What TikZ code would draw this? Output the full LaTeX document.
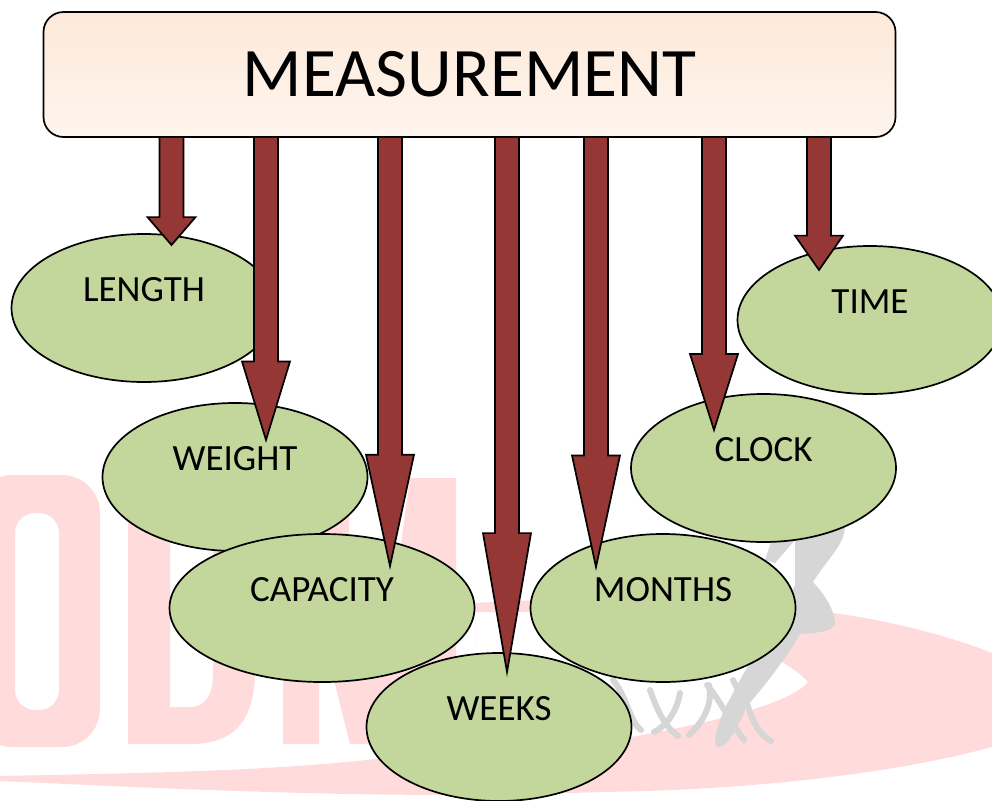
\documentclass[tikz,border=0pt]{standalone}
\usepackage{fontspec}
\setmainfont{Carlito}
\usetikzlibrary{shapes.geometric,calc}
\definecolor{boxtop}{HTML}{FDE9D9}
\definecolor{boxbottom}{HTML}{FEF5EE}
\definecolor{ovalgreen}{HTML}{C3D69B}
\definecolor{arrowred}{HTML}{953735}
\definecolor{markpink}{HTML}{FFDBDB}
\definecolor{markgrey}{HTML}{D6D6D6}

\begin{document}
\begin{tikzpicture} [x=1pt,y=-1pt,
		title box/.style={draw,line width=1.7pt,rounded corners=20pt,top color=boxtop,bottom color=boxbottom,
			minimum width=852pt,minimum height=125pt,inner sep=0pt,font=\fontsize{69.5}{69.5}\selectfont},
		topic/.style={draw,line width=1.7pt,ellipse,fill=ovalgreen,inner sep=0pt,minimum width=265pt,minimum height=148pt,
			text height=12pt,text depth=25pt,font=\fontsize{37}{37}\selectfont},
		block arrow/.style={draw,line width=1.7pt,fill=arrowred,to path={
			let \p1=(\tikztostart),\p2=(\tikztotarget),\n1={0.26*(\y1-\y2)} in
			(\x1-12pt,\y1) -- (\x1-12pt,\y2+\n1) -- (\x1-24pt,\y2+\n1) -- (\tikztotarget)
			-- (\x1+24pt,\y2+\n1) -- (\x1+12pt,\y2+\n1) -- (\x1+12pt,\y1)}},
		mark letter/.style={fill=markpink},
		mark strand/.style={draw=markgrey,line width=6pt,line cap=round}]

	\useasboundingbox (0,0) rectangle (992,800);
	\clip (0,0) rectangle (992,800);

	\fill [mark letter,even odd rule,rounded corners=38pt] (-26,475) rectangle (100,747)
		[rounded corners=20pt] (15,513) rectangle (59,710);
	\fill [mark letter,even odd rule] (128,478) -- (190,478) .. controls (235,478) and (255,500) .. (255,550)
		-- (255,670) .. controls (255,720) and (235,744) .. (190,744) -- (128,744) -- cycle
		(170,516) -- (170,707) -- (190,707) .. controls (205,707) and (213,695) .. (213,675)
		-- (213,550) .. controls (213,528) and (205,516) .. (190,516) -- cycle;
	\fill [mark letter] (283,744) -- (283,478) -- (349,478) -- (349,533) -- (385,660) -- (410,478) -- (456,478)
		-- (456,744) -- (420,744) -- (420,640) -- (395,744) -- (350,744) -- (319,620) -- (319,744) -- cycle;
	\fill [mark letter,even odd rule] (0,776) .. controls (200,772) and (330,770) .. (475,745)
		-- (475,603) .. controls (600,595) and (760,600) .. (833,613)
		.. controls (900,622) and (960,640) .. (992,653) -- (992,747)
		.. controls (900,772) and (760,790) .. (600,792) .. controls (400,800) and (200,790) .. (0,781) -- cycle
		(530,612) .. controls (650,615) and (770,640) .. (808,682)
		.. controls (790,705) and (700,725) .. (625,738) -- (475,745) -- (475,612) -- cycle;

	\fill [markgrey] (845,525) .. controls (845,545) and (830,555) .. (813,582)
		.. controls (825,595) and (835,610) .. (835,625) .. controls (830,632) and (815,633) .. (800,634)
		.. controls (785,660) and (765,685) .. (748,705) .. controls (738,725) and (728,748) .. (718,747)
		.. controls (710,745) and (720,715) .. (732,695) .. controls (755,650) and (785,610) .. (795,585)
		.. controls (795,565) and (795,550) .. (795,540) -- (775,563) -- (765,560) -- (775,530) -- cycle;
	\draw [mark strand] (613,680) .. controls (627,697) and (630,722) .. (641,730);
	\draw [mark strand] (650,690) .. controls (657,710) and (665,727) .. (678,736);
	\draw [mark strand] (680,693) .. controls (677,710) and (668,725) .. (654,732);
	\draw [mark strand] (709,685) .. controls (713,705) and (703,722) .. (689,735);
	\draw [mark strand] (707,685) .. controls (720,700) and (730,722) .. (744,740);
	\draw [mark strand] (747,703) .. controls (752,722) and (760,735) .. (771,741);
	\draw [mark strand] (733,680) .. controls (738,690) and (742,697) .. (744,705);

	\node [topic] (length) at (144,308) {LENGTH};
	\node [topic] (weight) at (235,477) {WEIGHT};
	\node [topic,minimum width=305pt] (capacity) at (322,608) {CAPACITY};
	\node [topic] (time) at (870,320) {TIME};
	\node [topic] (clock) at (763.5,468) {CLOCK};
	\node [topic] (weeks) at (499,727) {WEEKS};
	\node [topic] (months) at (663,608) {MONTHS};

	\node [title box] (measurement) at (469.5,74.5) {MEASUREMENT};

	\coordinate (tip-length) at (171.5,245);
	\coordinate (tip-weight) at (266,440);
	\coordinate (tip-capacity) at (390,566);
	\coordinate (tip-weeks) at (507,672);
	\coordinate (tip-months) at (596,567);
	\coordinate (tip-clock) at (714,430);
	\coordinate (tip-time) at (819,270);

	\foreach \tip in {length,weight,capacity,weeks,months,clock,time}
		\path [block arrow] (measurement.south -| tip-\tip) to (tip-\tip);
\end{tikzpicture}
\end{document}
